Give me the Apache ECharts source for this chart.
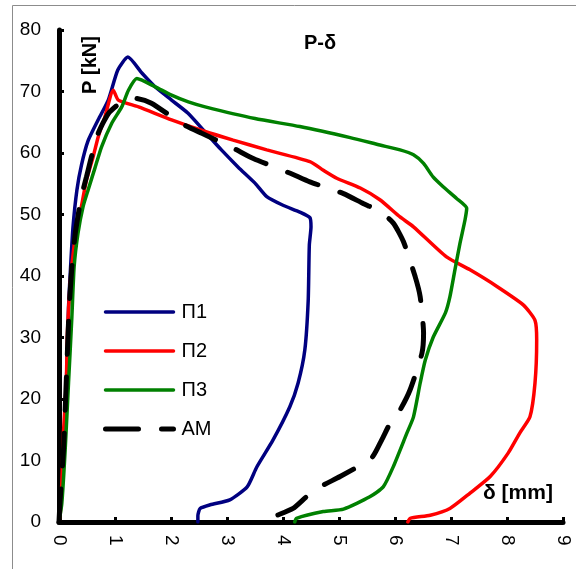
<!DOCTYPE html>
<html>
<head>
<meta charset="utf-8">
<script src="https://cdn.jsdelivr.net/npm/echarts@6/dist/echarts.min.js"></script>
<style>
  html, body { margin: 0; padding: 0; background: #fff; }
  #chart { width: 576px; height: 569px; }
</style>
</head>
<body>
<div id="chart"></div>
<script>
// δ [mm], P [kN] pairs
const p1 = [
  [0, 0], [0.05, 5], [0.1, 15], [0.14, 25], [0.17, 35], [0.21, 42], [0.25, 48],
  [0.32, 54], [0.4, 58], [0.52, 62], [0.7, 65.4], [0.88, 68.6], [1.05, 73.5],
  [1.23, 75.6], [1.48, 73], [1.71, 70.8], [2.01, 68.6], [2.3, 66.5], [2.6, 63.5],
  [2.9, 60.5], [3.2, 57.7], [3.5, 55.1], [3.71, 52.9], [4.0, 51.5], [4.3, 50.4],
  [4.48, 49.5], [4.5, 48], [4.47, 45], [4.45, 36], [4.39, 28], [4.27, 22.6],
  [4.12, 18.7], [3.82, 13.3], [3.53, 8.9], [3.36, 5.7], [3.05, 3.6], [2.7, 2.8],
  [2.52, 2.2], [2.48, 1], [2.48, 0]
]
const p2 = [
  [0, 0], [0.02, 1], [0.05, 6.3], [0.08, 14.5], [0.13, 22.6], [0.15, 30.7],
  [0.2, 38.9], [0.26, 44.2], [0.32, 48], [0.4, 51.3], [0.49, 55.6], [0.61, 59.4],
  [0.7, 62.6], [0.82, 65.9], [0.97, 70.2], [1.06, 68.6], [1.42, 67.5], [2.01, 65.4],
  [2.61, 63.5], [3.11, 62.1], [3.71, 60.5], [4.48, 58.6], [4.72, 57.2], [4.96, 55.9],
  [5.38, 54.3], [5.73, 52.4], [6.09, 49.6], [6.33, 48], [6.92, 43.1], [7.34, 41],
  [7.82, 38.3], [8.29, 35.3], [8.5, 32.8], [8.53, 29.6], [8.5, 22.6], [8.41, 17.1],
  [8.23, 14.5], [8.02, 11.2], [7.7, 7.4], [7.34, 4.7], [6.98, 2.2], [6.63, 1.1],
  [6.27, 0.6], [6.23, 0]
]
const p3 = [
  [0, 0], [0.05, 3], [0.11, 11.7], [0.17, 22.6], [0.23, 33.4], [0.27, 41.5],
  [0.34, 47], [0.43, 51.3], [0.52, 54], [0.64, 57.5], [0.76, 61], [0.94, 64.8],
  [1.12, 67.5], [1.24, 70.2], [1.39, 72.1], [1.71, 70.8], [2.01, 69.4], [2.31, 68.3],
  [2.61, 67.5], [3.5, 65.6], [4.3, 64.3], [5.2, 62.5], [5.73, 61.3], [6.09, 60.5],
  [6.33, 59.7], [6.51, 58.3], [6.68, 56.1], [6.86, 54.5], [7.1, 52.6], [7.28, 51],
  [7.25, 49.1], [7.16, 45.3], [7.07, 41], [6.98, 36.6], [6.9, 34], [6.68, 30],
  [6.54, 26.3], [6.45, 22.6], [6.33, 17.1], [6.21, 14.4], [5.97, 9], [5.79, 5.7],
  [5.55, 4.1], [5.08, 2.1], [4.72, 1.7], [4.24, 0.6], [4.21, 0]
]
const am = [
  [0, 0], [0.02, 3.6], [0.08, 11.7], [0.14, 25.3], [0.18, 34.5], [0.23, 41.5],
  [0.29, 46.9], [0.4, 52.9], [0.49, 56.1], [0.58, 59.4], [0.7, 63.2], [0.88, 66.4],
  [1.12, 68.3], [1.36, 68.9], [1.65, 68.1], [2.19, 64.8], [2.55, 63.2], [3.11, 60.8],
  [3.47, 59.1], [4.13, 56.7], [4.48, 55.3], [5.08, 53.4], [5.43, 51.8], [5.73, 50.5],
  [5.97, 48.6], [6.15, 45.6], [6.36, 39.9], [6.45, 36.6], [6.51, 30.7], [6.48, 27.4],
  [6.27, 21.5], [6.09, 18.2], [5.91, 16], [5.76, 13.3], [5.58, 10.4], [5.02, 7.4],
  [4.66, 5.7], [4.42, 4.1], [4.18, 2.2], [3.77, 0.6], [3.7, 0]
]

const seriesNames = ['П1', 'П2', 'П3', 'AM']
const seriesData = [p1, p2, p3, am]
const colors = ['#000080', '#ff0000', '#008000', '#000000']

const font = '"Liberation Sans", Arial, sans-serif'

const lineStyleFor = (i) => i === 3
  ? { color: colors[i], width: 5, type: [33, 23], cap: 'round' }
  : { color: colors[i], width: 3.5, cap: 'round' }

const chart = echarts.init(document.getElementById('chart'))

chart.setOption({
  animation: false,
  textStyle: { fontFamily: font },
  title: {
    text: 'P-δ',
    left: 299,
    top: 28,
    textStyle: { fontSize: 20, fontWeight: 'bold', color: '#000', fontFamily: font }
  },
  legend: {
    orient: 'vertical',
    left: 98,
    top: 297,
    itemWidth: 68,
    itemHeight: 14,
    itemGap: 19,
    itemStyle: { opacity: 0 },
    textStyle: { fontSize: 20, color: '#000', fontFamily: font, padding: [0, 0, 0, 3] },
    data: seriesNames.map((name, i) => ({ name, lineStyle: lineStyleFor(i) }))
  },
  grid: { left: 59, right: 13, top: 30, bottom: 47 },
  xAxis: {
    type: 'value',
    min: 0,
    max: 9,
    interval: 1,
    splitLine: { show: false },
    axisLine: { lineStyle: { color: '#000', width: 5 } },
    axisTick: { inside: true, length: 5, lineStyle: { color: '#000', width: 3 } },
    axisLabel: { rotate: -90, margin: 13, fontSize: 19, color: '#000', fontFamily: font }
  },
  yAxis: {
    type: 'value',
    min: 0,
    max: 80,
    interval: 10,
    splitLine: { show: false },
    axisLine: { show: true, lineStyle: { color: '#000', width: 5 } },
    axisTick: { show: true, inside: true, length: 5, lineStyle: { color: '#000', width: 3 } },
    axisLabel: { margin: 18, fontSize: 19, color: '#000', fontFamily: font }
  },
  graphic: [
    {
      type: 'rect',
      z: -1,
      shape: { x: 12.5, y: 5.5, width: 700, height: 700 },
      style: { fill: 'none', stroke: '#8c8c8c', lineWidth: 1 }
    },
    {
      type: 'text',
      x: 90,
      y: 65,
      rotation: Math.PI / 2,
      style: {
        text: 'P [kN]', fontSize: 20, fontWeight: 'bold', fontFamily: font,
        fill: '#000', align: 'center', verticalAlign: 'middle'
      }
    },
    {
      type: 'text',
      x: 518,
      y: 493,
      style: {
        text: 'δ [mm]', fontSize: 21, fontWeight: 'bold', fontFamily: font,
        fill: '#000', align: 'center', verticalAlign: 'middle'
      }
    }
  ],
  series: seriesData.map((d, i) => ({
    name: seriesNames[i],
    type: 'line',
    data: d,
    symbol: 'none',
    smooth: 0.2,
    color: colors[i],
    lineStyle: lineStyleFor(i)
  }))
})
</script>
</body>
</html>
